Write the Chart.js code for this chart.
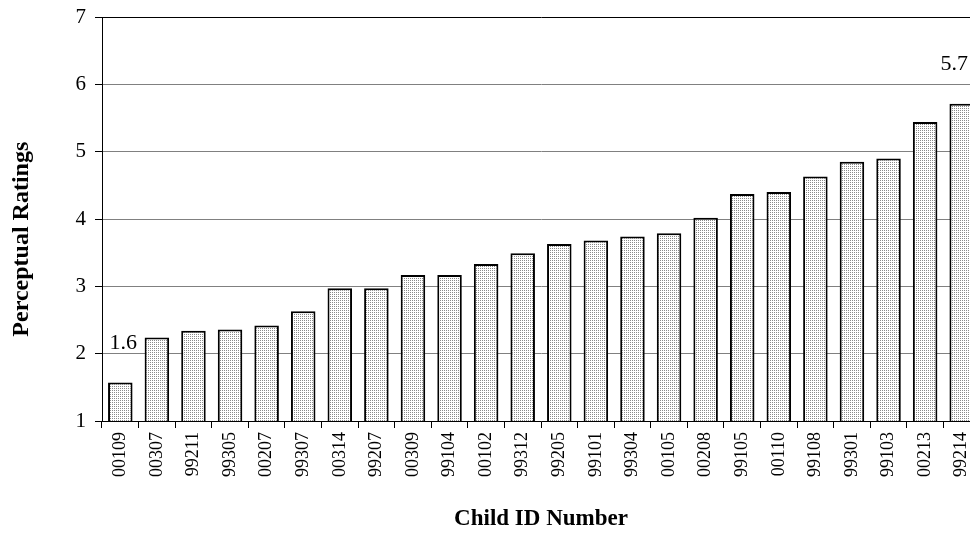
<!DOCTYPE html>
<html>
<head>
<meta charset="utf-8">
<script src="https://cdn.jsdelivr.net/npm/chart.js@4.4.1/dist/chart.umd.min.js"></script>
<style>
html,body{margin:0;padding:0;background:#fff;overflow:hidden;width:970px;height:533px;}
#wrap{position:absolute;left:0;top:0;width:980px;height:533px;}
</style>
</head>
<body>
<div id="wrap"><canvas id="c" width="980" height="533"></canvas></div>
<script>
const childIds = ["00109","00307","99211","99305","00207","99307","00314","99207","00309","99104","00102","99312","99205","99101","99304","00105","00208","99105","00110","99108","99301","99103","00213","99214"];
const ratings = [1.57,2.24,2.34,2.36,2.42,2.63,2.97,2.97,3.17,3.17,3.33,3.49,3.63,3.68,3.74,3.79,4.02,4.37,4.40,4.63,4.85,4.90,5.44,5.71];
const labelledIndex = [0, 23];
const labelText = ["1.6", "5.7"];
const yTicks = [1,2,3,4,5,6,7];
const yTitle = "Perceptual Ratings";
const xTitle = "Child ID Number";
const visibleWidth = 970;

function makePattern(){
  const p = document.createElement('canvas');
  p.width = 2; p.height = 2;
  const g = p.getContext('2d');
  g.fillStyle = '#ffffff'; g.fillRect(0,0,2,2);
  g.fillStyle = '#8a8a8a'; g.fillRect(0,0,1,1);
  return document.getElementById('c').getContext('2d').createPattern(p,'repeat');
}

const serif = "'Liberation Serif','Times New Roman',serif";

const labelPlugin = {
  id:'endLabels',
  afterDatasetsDraw(chart){
    const ctx = chart.ctx;
    const meta = chart.getDatasetMeta(0);
    ctx.save();
    ctx.font = "22px " + serif;
    ctx.fillStyle = '#000';
    ctx.textAlign = 'center';
    ctx.textBaseline = 'alphabetic';
    labelledIndex.forEach((idx,k)=>{
      const el = meta.data[idx];
      const w = ctx.measureText(labelText[k]).width;
      const x = Math.min(el.x + 3, visibleWidth - 2 - w/2);
      ctx.fillText(labelText[k], x, el.y - 34);
    });
    const a = chart.chartArea;
    ctx.font = "bold 24px " + serif;
    ctx.translate(22, a.top + (a.bottom - a.top) * 0.55);
    ctx.rotate(-Math.PI/2);
    ctx.textBaseline = 'middle';
    ctx.fillText(yTitle, 0, 0);
    ctx.restore();
  }
};

new Chart(document.getElementById('c'), {
  type:'bar',
  data:{
    labels: childIds,
    datasets:[{
      data: ratings,
      backgroundColor: makePattern(),
      borderColor:'#000',
      borderWidth:2,
      borderSkipped:'bottom',
      categoryPercentage:1,
      barPercentage:0.67
    }]
  },
  options:{
    responsive:false,
    animation:false,
    devicePixelRatio:1,
    layout:{padding:{top:17,right:0,bottom:0,left:0}},
    plugins:{legend:{display:false},tooltip:{enabled:false}},
    scales:{
      x:{
        offset:true,
        afterFit(s){ s.height = 112; s.paddingLeft = 0; s.paddingRight = 0; },
        grid:{display:true,drawOnChartArea:false,drawTicks:true,tickLength:7,color:'#000',tickColor:'#000',offset:true},
        border:{display:true,color:'#000',width:1},
        ticks:{color:'#000',font:{family:serif,size:18},minRotation:90,maxRotation:90,autoSkip:false,padding:4},
        title:{display:true,text:xTitle,color:'#000',font:{family:serif,size:23,weight:'bold'},padding:{top:0,bottom:0}}
      },
      y:{
        min:1,max:7,
        afterFit(s){ s.width = 102; s.paddingTop = 0; s.paddingBottom = 0; },
        afterBuildTicks(s){ s.ticks = yTicks.map(v=>({value:v})); },
        grid:{
          color:(c)=> c.tick && c.tick.value===7 ? '#000' : '#808080',
          tickColor:'#000',tickLength:7,lineWidth:1
        },
        border:{display:true,color:'#000',width:1},
        ticks:{color:'#000',font:{family:serif,size:21},padding:9},
        title:{display:false}
      }
    }
  },
  plugins:[labelPlugin]
});
</script>
</body>
</html>
